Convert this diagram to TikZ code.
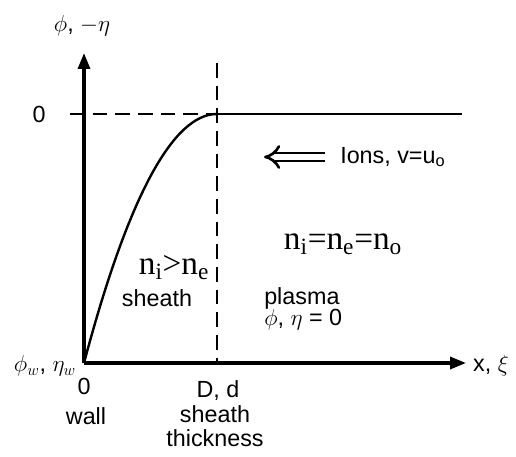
\documentclass[tikz,border=0pt]{standalone}
\usepackage{fontspec}
\setmainfont{Liberation Sans}
\newfontfamily\serifn{Liberation Serif}
\usetikzlibrary{positioning,arrows.meta}

\begin{document}
\begin{tikzpicture}[
    x=0.75pt, y=-0.75pt,
    every node/.style={font=\fontsize{17.5}{20}\selectfont, inner sep=0pt},
    axis/.style={line width=2.5pt, -{Triangle[length=12pt,width=9pt]}},
    guide/.style={line width=1.6pt, dash pattern=on 11pt off 6pt},
    profile/.style={line width=1.8pt},
    dens/.style={font=\serifn\fontsize{25}{28}\selectfont}
]
\useasboundingbox (0,0) rectangle (516,456);

% reference points
\coordinate (O) at (84,363);
\coordinate (ytip) at (84,53);
\coordinate (xtip) at (466,363);
\coordinate (zl) at (70,114);
\coordinate (top) at (217,114);
\coordinate (zr) at (462,114);
\coordinate (dtop) at (217,63);
\coordinate (dbot) at (217,363);
\coordinate (ionR) at (325,157);
\coordinate (ionL) at (264,157);

% axes
\draw[axis] (O) -- (ytip);
\draw[axis] (O) -- (xtip);

% zero level and sheath edge
\draw[guide] (zl) -- (top);
\draw[profile] (top) -- (zr);
\draw[guide] (dtop) -- (dbot);

% potential profile
\draw[profile] (O) .. controls (128,197) and (173,114) .. (top);

% ion flow
\draw[line width=2pt, double distance=4pt, -{Implies}] (ionR) -- (ionL);

% labels
\node (ylab) at (82,26) {$\phi$, $-\eta$};
\node (zero) at (39,114) {0};
\node[anchor=west] (ions) at (340,157) {Ions, v=u\textsubscript{o}};
\node[dens] (plasmaden) at (343,244) {n\textsubscript{i}=n\textsubscript{e}=n\textsubscript{o}};
\node[dens] (sheathden) at (174,268) {n\textsubscript{i}>n\textsubscript{e}};
\node (sheath) at (157,298) {sheath};
\node[anchor=west] (plasma) at (264,298) {plasma};
\node[anchor=west] (plasmaval) at (264,320) {$\phi$, $\eta$ = 0};
\node (wallval) at (45,366) {$\phi_w$, $\eta_w$};
\node (origin) at (84,386) {0};
\node (dlab) at (218,391) {D, d};
\node (xlab) at (491,366) {x, $\xi$};
\node (wall) at (86,416) {wall};
\node[align=center, font=\fontsize{17.5}{18}\selectfont] (thick) at (215,426) {sheath\\thickness};
\end{tikzpicture}
\end{document}
